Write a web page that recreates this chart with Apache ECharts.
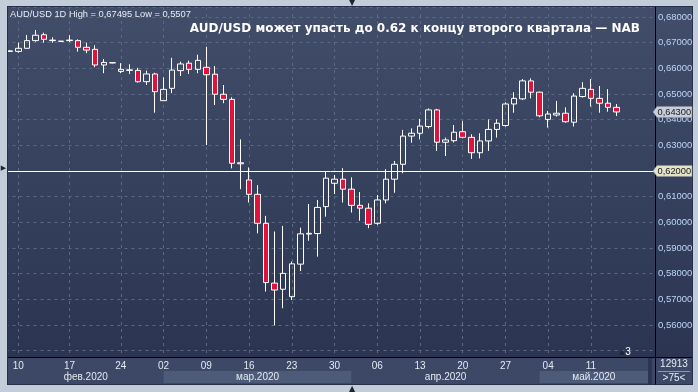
<!DOCTYPE html>
<html><head><meta charset="utf-8">
<script src="https://cdn.jsdelivr.net/npm/echarts@6/dist/echarts.min.js"></script>
<style>html,body{margin:0;padding:0;background:#c3cdda;} #c{width:698px;height:392px;}</style>
</head><body><div id="c"></div>
<script>
// ---------- data ----------
const dates = [
'2020-02-07','2020-02-10','2020-02-11','2020-02-12','2020-02-13','2020-02-14','2020-02-16',
'2020-02-17','2020-02-18','2020-02-19','2020-02-20','2020-02-21','2020-02-23',
'2020-02-24','2020-02-25','2020-02-26','2020-02-27','2020-02-28',
'2020-03-02','2020-03-03','2020-03-04','2020-03-05','2020-03-06',
'2020-03-09','2020-03-10','2020-03-11','2020-03-12','2020-03-13',
'2020-03-16','2020-03-17','2020-03-18','2020-03-19','2020-03-20',
'2020-03-23','2020-03-24','2020-03-25','2020-03-26','2020-03-27',
'2020-03-30','2020-03-31','2020-04-01','2020-04-02','2020-04-03',
'2020-04-06','2020-04-07','2020-04-08','2020-04-09','2020-04-10',
'2020-04-13','2020-04-14','2020-04-15','2020-04-16','2020-04-17',
'2020-04-20','2020-04-21','2020-04-22','2020-04-23','2020-04-24',
'2020-04-27','2020-04-28','2020-04-29','2020-04-30','2020-05-01',
'2020-05-04','2020-05-05','2020-05-06','2020-05-07','2020-05-08',
'2020-05-11','2020-05-12','2020-05-13','2020-05-14'];
const padDates = ['2020-05-15','2020-05-16','2020-05-17','2020-05-18'];
const opens = [
.6668,.6666,.6678,.6708,.6731,.6710,.6706,
.6708,.6708,.6682,.6674,.6613,.6622,
.6588,.6594,.6592,.6548,.6578,
.6474,.6522,.6591,.6620,.6596,
.6604,.6577,.6499,.6479,.6232,
.6165,.6109,.5996,.5763,.5739,
.5710,.5837,.5954,.5956,.6061,
.6152,.6168,.6129,.6066,.6055,
.5996,.6087,.6168,.6226,.6336,
.6347,.6373,.6438,.6312,.6318,
.6353,.6331,.6271,.6317,.6362,
.6377,.6461,.6481,.6551,.6507,
.6401,.6418,.6425,.6390,.6490,
.6518,.6483,.6464,.6448];
const closes = [
.6666,.6678,.6708,.6729,.6713,.6708,.6705,
.6710,.6682,.6671,.6613,.6623,.6621,
.6596,.6592,.6548,.6578,.6509,
.6518,.6593,.6617,.6596,.6631,
.6575,.6499,.6479,.6230,.6228,
.6109,.5996,.5765,.5736,.5801,
.5838,.5955,.5957,.6058,.6172,
.6168,.6129,.6066,.6055,.5992,
.6087,.6168,.6226,.6336,.6347,
.6375,.6438,.6312,.6321,.6351,
.6331,.6271,.6317,.6362,.6386,
.6461,.6483,.6551,.6507,.6415,
.6422,.6425,.6392,.6492,.6522,
.6483,.6464,.6448,.6430];
const lows = [
.6664,.6661,.6676,.6704,.6700,.6700,.6704,
.6703,.6665,.6659,.6604,.6581,.6620,
.6581,.6578,.6544,.6535,.6427,
.6474,.6503,.6570,.6578,.6581,
.6301,.6457,.6464,.6210,.6129,
.6077,.5957,.5730,.5598,.5665,
.5697,.5810,.5928,.5866,.6022,
.6110,.6077,.6038,.6006,.5977,
.5990,.6074,.6115,.6191,.6310,
.6323,.6366,.6278,.6258,.6311,
.6327,.6247,.6249,.6278,.6330,
.6373,.6427,.6477,.6483,.6409,
.6369,.6412,.6388,.6373,.6486,
.6451,.6427,.6431,.6414];
const highs = [
.6670,.6700,.6730,.67495,.6739,.6721,.6707,
.6729,.6713,.6700,.6690,.6636,.6623,
.6620,.6616,.6602,.6591,.6583,
.6565,.6641,.6626,.6630,.6653,
.6684,.6609,.6535,.6487,.6323,
.6214,.6145,.6025,.5964,.5986,
.5847,.5979,.6071,.6087,.6197,
.6184,.6211,.6175,.6118,.6074,
.6106,.6207,.6239,.6360,.6366,
.6403,.6444,.6442,.6330,.6379,
.6395,.6343,.6347,.6401,.6401,
.6468,.6507,.6558,.6561,.6509,
.6434,.6473,.6448,.6503,.6546,
.6558,.6531,.6519,.6461];
const monthLabels = ['фев.2020','мар.2020','апр.2020','май.2020'];
const monthStarts = ['2020-02-07','2020-03-02','2020-04-01','2020-05-01'];
const headerText = 'AUD/USD 1D High = 0,67495 Low = 0,5507';
const titleText = 'AUD/USD может упасть до 0.62 к концу второго квартала — NAB';
const levelLine = 0.62;
const lastPrice = 0.6430;
const volumeText = '12913';
const rangeText = '>75<';
const yMin = 0.5475, yMax = 0.6839;

// ---------- chart ----------
const fmt = v => v.toFixed(5).replace('.', ',');
const isMonday = (i, v) => i < dates.length && new Date(v + 'T00:00:00Z').getUTCDay() === 1;
const candles = dates.map((d, i) => [opens[i], closes[i], lows[i], highs[i]]);

const chart = echarts.init(document.getElementById('c'), null, {renderer: 'canvas'});
const gridL = 5.5, gridR = 43, gridT = 7, gridB = 35;
chart.setOption({
  animation: false,
  backgroundColor: '#c3cdda',
  grid: {left: gridL, right: gridR, top: gridT, bottom: gridB},
  xAxis: {
    type: 'category', data: dates.concat(padDates), boundaryGap: true,
    axisLine: {show: true, lineStyle: {color: '#000', width: 1}},
    axisTick: {show: false},
    axisLabel: {interval: isMonday, formatter: v => v.slice(8, 10), color: '#e4e9f1',
      fontFamily: 'Liberation Sans', fontSize: 10, margin: 4},
    splitLine: {show: true, interval: isMonday, alignWithLabel: true,
      lineStyle: {color: '#5b6985', type: [3, 4], width: 1}}
  },
  yAxis: {
    type: 'value', position: 'right', min: yMin, max: yMax, splitNumber: 14, scale: true,
    axisLine: {show: true, lineStyle: {color: '#000', width: 1}},
    axisTick: {show: false},
    axisLabel: {
      formatter: v => (Math.abs(v * 100 - Math.round(v * 100)) < 1e-6 && v > 0.555) ? fmt(v) : '',
      color: '#bcd5f5', margin: 3, fontFamily: 'Liberation Sans', fontSize: 9.5
    },
    splitLine: {show: true, lineStyle: {color: '#5b6985', type: [3, 4], width: 1}}
  },
  series: [{
    type: 'candlestick', data: candles, barWidth: 6,
    itemStyle: {color: 'rgba(0,0,0,0)', color0: '#e3123c', borderColor: '#ffffff', borderColor0: '#ffffff', borderWidth: 1},
    markLine: {
      symbol: 'none', silent: true, animation: false, label: {show: false},
      data: [{yAxis: levelLine, lineStyle: {color: '#ffffff', width: 1, type: 'solid'}}]
    }
  }]
});

// ---------- decorations positioned by the library's scale ----------
const px = d => chart.convertToPixel({xAxisIndex: 0}, d);
const py = v => chart.convertToPixel({yAxisIndex: 0}, v);
const plotL = 8, plotR = 655, plotT = 7, plotB = 357, outR = 692, outB = 384;
const bands = [];
for (let i = 0; i < monthLabels.length; i++) {
  const x0 = i === 0 ? plotL : px(monthStarts[i]);
  const x1 = i === monthLabels.length - 1 ? 648 : px(monthStarts[i + 1]);
  bands.push({
    type: 'rect', z: -50, shape: {x: x0, y: 371, width: x1 - x0, height: 12},
    style: {fill: i % 2 ? '#4d5a78' : '#3c4866'}
  });
  bands.push({
    type: 'text', z: 50, x: (x0 + x1) / 2, y: 377,
    style: {text: monthLabels[i], fill: '#e4e9f1', font: '10px "Liberation Sans"', align: 'center', verticalAlign: 'middle'}
  });
}
const tag = (v, fill) => {
  const y = py(v);
  return [
    {type: 'polygon', z: 96, shape: {points: [[653, y], [657, y - 5.5], [692, y - 5.5], [692, y + 5.5], [657, y + 5.5]]},
     style: {fill: fill, stroke: '#8a8f99', lineWidth: 0.5}},
    {type: 'text', z: 97, x: 657.5, y: y + 0.5, style: {text: fmt(v), fill: '#1a1a1a', font: '9.3px "Liberation Sans"', align: 'left', verticalAlign: 'middle'}}
  ];
};
const grad = new echarts.graphic.LinearGradient(0, 0, 0, 1, [{offset: 0, color: '#414d69'}, {offset: 1, color: '#2b3552'}]);
chart.setOption({
  graphic: [
    {type: 'rect', z: -100, shape: {x: 7, y: 6, width: outR - 6, height: outB - 5}, style: {fill: '#25304a'}},
    {type: 'rect', z: -99, shape: {x: plotL, y: plotT, width: outR - plotL, height: plotB - plotT}, style: {fill: grad}},
    {type: 'rect', z: -99, shape: {x: plotL, y: plotB, width: outR - plotL, height: outB - plotB}, style: {fill: '#3c4866'}},
    ...bands,
    {type: 'rect', z: -49, shape: {x: 648, y: 358, width: 4, height: 26}, style: {fill: '#2c3650'}},
    // frame strips
    {type: 'rect', z: 90, shape: {x: 0, y: 0, width: 7, height: 392}, style: {fill: '#c3cdda'}},
    {type: 'rect', z: 90, shape: {x: 0, y: 0, width: 698, height: 6}, style: {fill: '#c3cdda'}},
    {type: 'rect', z: 90, shape: {x: 0, y: 385, width: 698, height: 7}, style: {fill: '#c3cdda'}},
    {type: 'rect', z: 90, shape: {x: 693, y: 0, width: 5, height: 392}, style: {fill: '#c3cdda'}},
    {type: 'line', z: 91, shape: {x1: 7.5, y1: 6.5, x2: 7.5, y2: 384.5}, style: {stroke: '#25304a', lineWidth: 1}},
    {type: 'line', z: 91, shape: {x1: 7, y1: 6.5, x2: 693, y2: 6.5}, style: {stroke: '#25304a', lineWidth: 1}},
    {type: 'line', z: 91, shape: {x1: 692.5, y1: 6.5, x2: 692.5, y2: 384.5}, style: {stroke: '#25304a', lineWidth: 1}},
    {type: 'line', z: 91, shape: {x1: 655.5, y1: 357, x2: 655.5, y2: 384.5}, style: {stroke: '#000', lineWidth: 1}},
    {type: 'line', z: 91, shape: {x1: 655, y1: 357.5, x2: 692, y2: 357.5}, style: {stroke: '#000', lineWidth: 1}},
    // price tags
    ...tag(lastPrice, '#c9ced8'),
    ...tag(levelLine, '#e3e3c8'),
    // markers
    {type: 'text', z: 92, x: 352, y: 3, style: {text: '▼', fill: '#1c2333', font: '8px "DejaVu Sans"', align: 'center', verticalAlign: 'middle'}},
    {type: 'text', z: 92, x: 352, y: 388.5, style: {text: '▲', fill: '#1c2333', font: '8px "DejaVu Sans"', align: 'center', verticalAlign: 'middle'}},
    {type: 'text', z: 92, x: 3.5, y: 168, style: {text: '▶', fill: '#1c2333', font: '7px "DejaVu Sans"', align: 'center', verticalAlign: 'middle'}},
    // texts
    {type: 'text', z: 95, x: 10, y: 14, style: {text: headerText, fill: '#e8edf5', font: '9.3px "Liberation Sans"', align: 'left', verticalAlign: 'middle'}},
    {type: 'text', z: 95, x: 640, y: 29, style: {text: titleText, fill: '#ffffff', font: 'bold 12px "DejaVu Sans"', align: 'right', verticalAlign: 'middle'}},
    {type: 'text', z: 95, x: 622, y: 352, style: {text: '▲', fill: '#1c2333', font: '7px "DejaVu Sans"', align: 'center', verticalAlign: 'middle'}},
    {type: 'text', z: 95, x: 628, y: 352, style: {text: '3', fill: '#ffffff', font: '10px "Liberation Sans"', align: 'center', verticalAlign: 'middle'}},
    {type: 'text', z: 95, x: 674, y: 364, style: {text: volumeText, fill: '#e8edf5', font: '10px "Liberation Sans"', align: 'center', verticalAlign: 'middle'}},
    {type: 'line', z: 95, shape: {x1: 658, y1: 371.5, x2: 690, y2: 371.5}, style: {stroke: '#8c97ab', lineWidth: 1}},
    {type: 'text', z: 95, x: 674, y: 378, style: {text: rangeText, fill: '#e8edf5', font: '10px "Liberation Sans"', align: 'center', verticalAlign: 'middle'}}
  ]
});
</script></body></html>
